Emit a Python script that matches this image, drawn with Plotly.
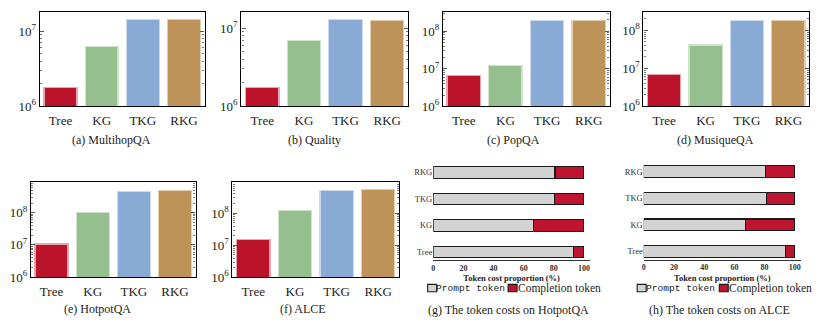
import plotly.graph_objects as go

# ---- data -------------------------------------------------------------
methods = ["Tree", "KG", "TKG", "RKG"]

multihopqa = [1.8e6, 6.2e6, 1.42e7, 1.42e7]
quality = [1.76e6, 6.9e6, 1.3e7, 1.25e7]
popqa = [6.6e6, 1.25e7, 1.96e8, 1.96e8]
musiqueqa = [6.9e6, 4.1e7, 1.83e8, 1.85e8]
hotpotqa = [1.07e7, 1.02e8, 4.6e8, 4.8e8]
alce = [1.55e7, 1.2e8, 5.0e8, 5.6e8]

hotpot_prompt = [93.0, 66.5, 80.4, 80.8]
hotpot_completion = [7.0, 33.5, 19.6, 19.2]
alce_prompt = [93.6, 67.2, 81.0, 80.4]
alce_completion = [6.4, 32.8, 19.0, 19.6]

captions = [
    "(a) MultihopQA", "(b) Quality", "(c) PopQA", "(d) MusiqueQA",
    "(e) HotpotQA", "(f) ALCE",
    "(g) The token costs on HotpotQA", "(h) The token costs on ALCE",
]

# ---- style ------------------------------------------------------------
W, H = 830, 328
SERIF = "Liberation Serif"
MONO = "Liberation Mono"
bar_fill = ["#bb1329", "#95bf8f", "#8aaad6", "#bd9359"]
bar_edge = ["#e7a7b2", "#cfe3cb", "#cdd9ef", "#e3cfb0"]
prompt_fill = "#d3d3d3"
completion_fill = "#bf1430"


def fx(px):
    return px / W


def fy(py):
    return 1 - py / H


def sfx(n):
    return "" if n == 1 else str(n)


# panel boxes in pixels: (left, right, top, bottom), log10 y-range top
vbox = [
    (38, 203, 12, 109, 7.26),
    (240, 407, 12.7, 109, 7.20),
    (442, 609, 12, 109, 8.52),
    (643, 809, 12, 109, 8.49),
    (29, 194, 186.7, 284, 8.95),
    (231, 398, 186.7, 284.3, 8.97),
]
vdata = [multihopqa, quality, popqa, musiqueqa, hotpotqa, alce]

fig = go.Figure()
layout = dict(
    width=W, height=H, margin=dict(l=0, r=0, t=0, b=0),
    paper_bgcolor="white", plot_bgcolor="white",
    showlegend=False, barmode="stack", hovermode=False,
    font=dict(family=SERIF, color="black"),
)

for i, (vals, box) in enumerate(zip(vdata, vbox)):
    n = i + 1
    s = sfx(n)
    left, right, top, bottom, ytop = box
    fig.add_trace(go.Bar(
        x=methods, y=vals, width=0.8,
        marker=dict(color=bar_fill, line=dict(color=bar_edge, width=1.2)),
        xaxis="x" + s, yaxis="y" + s,
    ))
    decades = [d for d in range(6, 10) if d <= ytop]
    minor_vals = [m * 10 ** d for d in decades for m in range(2, 10)]
    layout["xaxis" + s] = dict(
        domain=[fx(left), fx(right)], anchor="y" + s,
        type="category", range=[-0.5, 3.5],
        showline=True, linecolor="black", linewidth=1.3, mirror=True,
        ticks="", ticklabelstandoff=2,
        tickfont=dict(family=SERIF, size=13, color="#222"),
        showgrid=False, zeroline=False,
    )
    layout["yaxis" + s] = dict(
        domain=[fy(bottom), fy(top)], anchor="x" + s,
        type="log", range=[6, ytop],
        tickvals=[10 ** d for d in decades],
        ticktext=["10<sup>%d</sup>" % d for d in decades],
        ticks="inside", ticklen=4, tickwidth=0.8, tickcolor="#555",
        minor=dict(tickvals=minor_vals, ticks="inside", ticklen=2,
                   tickwidth=0.6, tickcolor="#777"),
        showline=True, linecolor="black", linewidth=1.3, mirror="allticks",
        tickfont=dict(family=SERIF, size=13, color="#222"),
        showgrid=False, zeroline=False,
    )
    # category ticks along the top edge
    t = str(n + 8)
    layout["xaxis" + t] = dict(
        domain=[fx(left), fx(right)], anchor="y" + s, overlaying="x" + s,
        side="top", type="linear", range=[-0.5, 3.5],
        tickmode="array", tickvals=list(range(len(methods))),
        showticklabels=False, ticks="outside", ticklen=3, tickwidth=0.8,
        tickcolor="#555", showline=False, showgrid=False, zeroline=False,
    )

# horizontal stacked proportion panels: (x of 0, x of xmax, y of Tree, y of RKG, axis y)
hbox = [
    (432.3, 589.4, 258.3, 176.7, 266.7),
    (643.3, 800.8, 257.7, 176.0, 266.0),
]
hdata = [(hotpot_prompt, hotpot_completion), (alce_prompt, alce_completion)]
for j, ((prm, cmp_), box) in enumerate(zip(hdata, hbox)):
    n = 7 + j
    s = sfx(n)
    x0, x1, ytree, yrkg, yaxis_px = box
    step = (ytree - yrkg) / 3
    ylo = -(yaxis_px - ytree) / step
    yhi = 3.4
    fig.add_trace(go.Bar(
        y=methods, x=prm, orientation="h", width=0.44,
        marker=dict(color=prompt_fill, line=dict(color="#1a1a1a", width=1.1)),
        xaxis="x" + s, yaxis="y" + s, name="Prompt token",
    ))
    fig.add_trace(go.Bar(
        y=methods, x=cmp_, orientation="h", width=0.44,
        marker=dict(color=completion_fill, line=dict(color="#1a1a1a", width=1.1)),
        xaxis="x" + s, yaxis="y" + s, name="Completion token",
    ))
    layout["xaxis" + s] = dict(
        domain=[fx(x0), fx(x1)], anchor="y" + s, range=[0, 104],
        tickvals=[0, 20, 40, 60, 80, 100], ticks="",
        tickfont=dict(family=SERIF, size=8, color="#333", weight="bold"),
        showline=True, linecolor="#333", linewidth=1.3,
        showgrid=False, zeroline=False,
        title=dict(text="Token cost proportion (%)", standoff=3,
                   font=dict(family=SERIF, size=8.5, color="#222", weight="bold")),
    )
    layout["yaxis" + s] = dict(
        domain=[fy(yaxis_px), fy(yrkg - (yhi - 3) * step)], anchor="x" + s,
        type="category", categoryarray=methods,
        range=[ylo, yhi], ticks="", showline=False,
        tickfont=dict(family=SERIF, size=8.5, color="#333"),
        showgrid=False, zeroline=False,
    )

# captions under each panel
cap_pos = [(110, 143), (313, 143), (512.5, 143), (715, 143),
           (96, 316.7), (302, 316.7), (508, 317.7), (719, 317.7)]
annotations = []
for text, (cx, cy) in zip(captions, cap_pos):
    annotations.append(dict(
        text=text, x=fx(cx), y=fy(cy), xref="paper", yref="paper",
        xanchor="center", yanchor="middle", showarrow=False,
        font=dict(family=SERIF, size=12, color="#222"),
    ))

# legend rows under the proportion panels
shapes = []
legend_rows = [(426.7, 507.3), (636.7, 719.0)]
for px_prompt, px_comp in legend_rows:
    for bx, fill in ((px_prompt, prompt_fill), (px_comp, completion_fill)):
        shapes.append(dict(
            type="rect", xref="paper", yref="paper",
            x0=fx(bx), x1=fx(bx + 9), y0=fy(299), y1=fy(291.5),
            fillcolor=fill, line=dict(color="#1a1a1a", width=1.1),
        ))
    annotations.append(dict(
        text="Prompt token", x=fx(px_prompt + 8.5), y=fy(295.5),
        xref="paper", yref="paper", xanchor="left", yanchor="middle",
        borderpad=0, borderwidth=0,
        showarrow=False, font=dict(family=MONO, size=9.6, color="#222"),
    ))
    annotations.append(dict(
        text="Completion token", x=fx(px_comp + 10), y=fy(295.5),
        xref="paper", yref="paper", xanchor="left", yanchor="middle",
        borderpad=0, borderwidth=0,
        showarrow=False, font=dict(family=SERIF, size=11.5, color="#222"),
    ))

layout["annotations"] = annotations
layout["shapes"] = shapes
fig.update_layout(**layout)

fig.write_html("out.html")
